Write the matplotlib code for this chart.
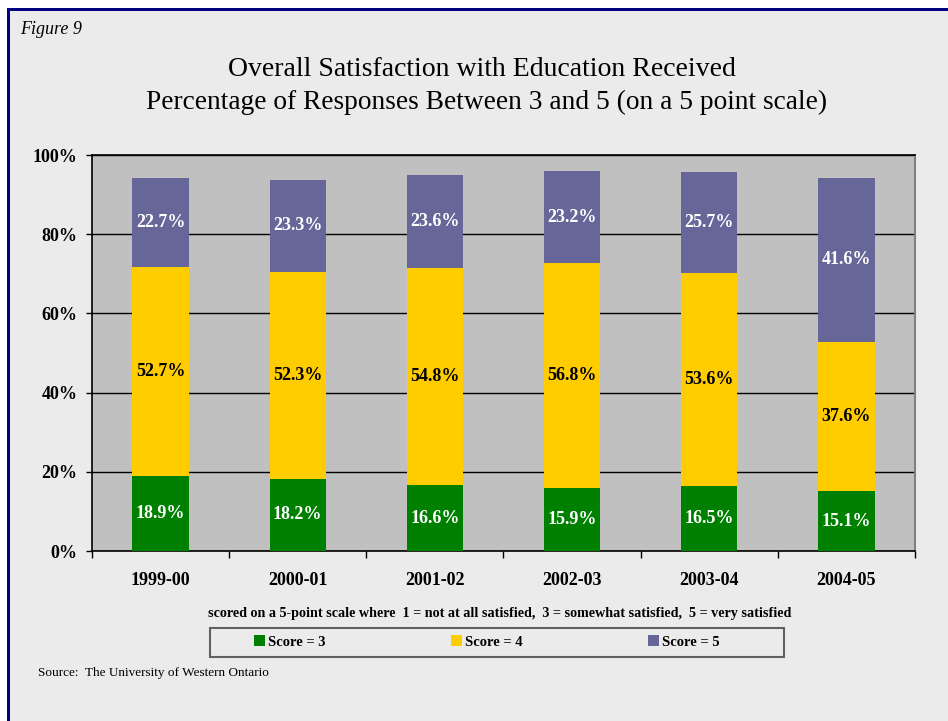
import numpy as np
import matplotlib.pyplot as plt
from matplotlib.patches import Rectangle

years = ["1999-00", "2000-01", "2001-02", "2002-03", "2003-04", "2004-05"]
score3 = [18.9, 18.2, 16.6, 15.9, 16.5, 15.1]
score4 = [52.7, 52.3, 54.8, 56.8, 53.6, 37.6]
score5 = [22.7, 23.3, 23.6, 23.2, 25.7, 41.6]
series_names = ["Score = 3", "Score = 4", "Score = 5"]
colors = ["#008000", "#FFCC00", "#666699"]
label_colors = ["white", "black", "white"]

plt.rcParams["font.family"] = ["Liberation Serif", "DejaVu Serif"]

fig = plt.figure(figsize=(9.48, 7.21), dpi=100)
fig.patch.set_facecolor("white")
W, H = 948, 721

# panel background and navy frame (top and left only)
fig.patches.append(Rectangle((10 / W, 0), 1, 1 - 11 / H, transform=fig.transFigure,
                             facecolor="#EBEBEB", edgecolor="none", zorder=-10))
fig.patches.append(Rectangle((7 / W, 0), 3 / W, 1 - 8 / H, transform=fig.transFigure,
                             facecolor="#000080", edgecolor="none", zorder=-9))
fig.patches.append(Rectangle((7 / W, 1 - 11 / H), 1, 3 / H, transform=fig.transFigure,
                             facecolor="#000080", edgecolor="none", zorder=-9))

ax = fig.add_axes([92 / W, 1 - 551 / H, (915 - 92) / W, (551 - 155) / H])
ax.set_facecolor("#C0C0C0")

x = np.arange(len(years))
bottom = np.zeros(len(years))
for vals, name, c, lc in zip([score3, score4, score5], series_names, colors, label_colors):
    vals = np.array(vals)
    ax.bar(x, vals, width=0.41, bottom=bottom, color=c, label=name, zorder=3)
    for xi, b, v in zip(x, bottom, vals):
        ax.text(xi, b + v / 2, f"{v:.1f}%", ha="center", va="center",
                color=lc, fontsize=13, fontweight="bold", zorder=4)
    bottom += vals

ax.set_xlim(-0.5, len(years) - 0.5)
ax.set_ylim(0, 100)
ax.set_yticks(np.arange(0, 101, 20))
ax.set_yticklabels([f"{v}%" for v in range(0, 101, 20)], fontsize=13, fontweight="bold")
ax.yaxis.grid(True, color="black", linewidth=1, zorder=1)
ax.set_axisbelow(True)

ax.set_xticks(np.arange(-0.5, len(years)), minor=False)
ax.set_xticklabels([])
ax.set_xticks(x, minor=True)
ax.set_xticklabels(years, minor=True, fontsize=13, fontweight="bold")
ax.tick_params(axis="x", which="minor", length=0, pad=15)
ax.tick_params(axis="x", which="major", length=5, width=1, direction="out")
ax.tick_params(axis="y", length=4.5, width=1, direction="out", pad=6)

for s in ["left", "bottom", "top"]:
    ax.spines[s].set_color("black")
    ax.spines[s].set_linewidth(1.2)
ax.spines["right"].set_color("#808080")
ax.spines["right"].set_linewidth(1.5)

fig.text(20 / W, 1 - 30 / H, "Figure 9", fontsize=13, style="italic", va="center")
fig.text(482 / W, 1 - 70 / H, "Overall Satisfaction with Education Received",
         fontsize=20, ha="center", va="center")
fig.text(487 / W, 1 - 102 / H, "Percentage of Responses Between 3 and 5 (on a 5 point scale)",
         fontsize=19.7, ha="center", va="center")
fig.text(500 / W, 1 - 613 / H,
         "scored on a 5-point scale where  1 = not at all satisfied,  3 = somewhat satisfied,  5 = very satisfied",
         fontsize=10.2, fontweight="bold", ha="center", va="center")

# legend box drawn separately so the entries can sit evenly inside it
fig.patches.append(Rectangle((210 / W, 1 - 657 / H), 574 / W, 29 / H, transform=fig.transFigure,
                             facecolor="#EBEBEB", edgecolor="#606060", linewidth=1.5, zorder=1))
handles = [Rectangle((0, 0), 1, 1, facecolor=c, edgecolor="none") for c in colors]
leg = fig.legend(handles, series_names, loc="center", ncol=3,
                 bbox_to_anchor=(487 / W, 1 - 642 / H), frameon=False,
                 handlelength=0.75, handleheight=0.75, handletextpad=0.2,
                 columnspacing=8.6, prop={"weight": "bold", "size": 10.5})

fig.text(38 / W, 1 - 673 / H, "Source:  The University of Western Ontario",
         fontsize=9.5, va="center")

fig.savefig("out.png", dpi=100)
